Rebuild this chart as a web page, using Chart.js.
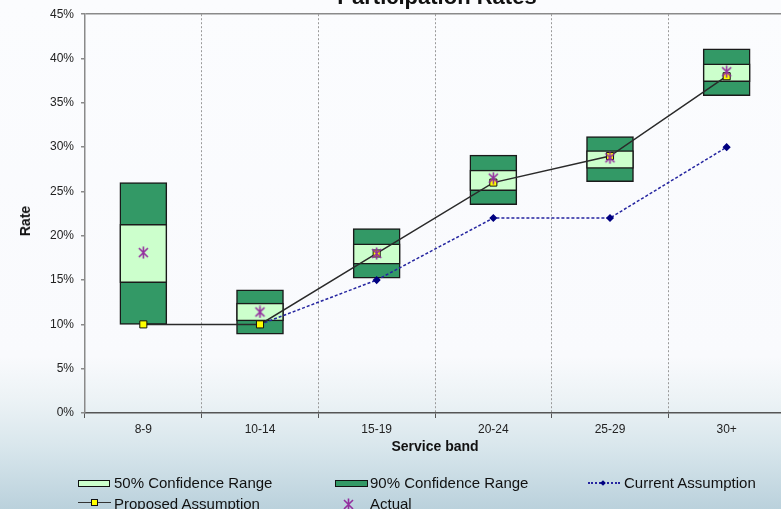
<!DOCTYPE html>
<html>
<head>
<meta charset="utf-8">
<script src="https://cdn.jsdelivr.net/npm/chart.js@4.4.1/dist/chart.umd.min.js"></script>
<style>
  body{margin:0;width:781px;height:509px;overflow:hidden;position:relative;
    background:linear-gradient(to bottom,#fbfcfe 0%,#f9fafd 70%,#edf3f6 78%,#d8e6ec 88%,#bad1dc 100%);
    font-family:"Liberation Sans",Arial,sans-serif;color:#111;}
  #caixa{position:absolute;left:0;top:0;width:800px;height:509px;}
  #titulo{position:absolute;left:37px;width:800px;top:-14px;text-align:center;font-weight:bold;font-size:22px;line-height:22px;}
  #rotulo_y{position:absolute;left:25px;top:221px;transform:translate(-50%,-50%) rotate(-90deg);font-weight:bold;font-size:14px;}
  .txt{position:absolute;font-size:15px;line-height:15px;white-space:nowrap;}
  .caixinha{position:absolute;box-sizing:border-box;border:1px solid #111;height:7px;}
  .linha{position:absolute;height:0;}
</style>
</head>
<body>
<div id="caixa"><canvas id="myChart"></canvas></div>
<div id="titulo">Participation Rates</div>
<div id="rotulo_y">Rate</div>

<!-- legenda -->
<div class="caixinha" style="left:78px;top:480px;width:32px;background:#ccffcc"></div>
<div class="txt" style="left:114px;top:475px">50% Confidence Range</div>
<div class="caixinha" style="left:335px;top:480px;width:33px;background:#339966"></div>
<div class="txt" style="left:370px;top:475px">90% Confidence Range</div>
<div class="linha" style="left:588px;top:482px;width:32px;border-top:2px dotted #2525a0"></div>
<div style="position:absolute;left:601px;top:481px;width:4px;height:4px;background:#000080;transform:rotate(45deg)"></div>
<div class="txt" style="left:624px;top:475px">Current Assumption</div>
<div class="linha" style="left:78px;top:502px;width:33px;border-top:1.5px solid #333"></div>
<div style="position:absolute;left:91px;top:499px;width:5px;height:5px;border:1px solid #111;background:#ffff00"></div>
<div class="txt" style="left:114px;top:496px">Proposed Assumption</div>
<div id="estrela_legenda" style="position:absolute;left:342px;top:497px"></div>
<div class="txt" style="left:370px;top:496px">Actual</div>

<script>
// Faixas de tempo de serviço
const faixas = ["8-9", "10-14", "15-19", "20-24", "25-29", "30+"];

// Intervalos de confiança (em %)
const faixa90_min = [10.0, 8.9, 15.2, 23.5, 26.1, 35.8];
const faixa90_max = [26.0, 13.9, 20.8, 29.1, 31.2, 41.1];
const faixa50_min = [14.7, 10.4, 16.8, 25.1, 27.6, 37.4];
const faixa50_max = [21.3, 12.4, 19.1, 27.4, 29.6, 39.4];

// Taxas observadas e premissas (em %)
const observado = [18.1, 11.4, 18.0, 26.5, 28.8, 38.5];
const premissa_proposta = [10, 10, 18, 26, 29, 38];
const premissa_atual = [null, 10, 15, 22, 22, 30];

// Eixo Y
const ticks_y = [0, 5, 10, 15, 20, 25, 30, 35, 40, 45];

const fonte = "'Liberation Sans', Arial, sans-serif";

// Marcador em forma de asterisco (X com traço vertical)
function desenhar_estrela(){
    const c = document.createElement("canvas");
    c.width = 13;
    c.height = 13;
    const g = c.getContext("2d");
    g.strokeStyle = "#932e9e";
    g.lineWidth = 1.6;
    g.beginPath();
    g.moveTo(2, 2); g.lineTo(11, 11);
    g.moveTo(11, 2); g.lineTo(2, 11);
    g.moveTo(6.5, 0.5); g.lineTo(6.5, 12.5);
    g.stroke();
    return c;
}

document.getElementById("estrela_legenda").appendChild(desenhar_estrela());

function juntar(minimos, maximos){
    return minimos.map((v, i) => [v, maximos[i]]);
}

var desenho = new Chart("myChart", {
    type: "bar",
    data: {
        labels: faixas,
        datasets: [{
            type: "line",
            label: "Actual",
            data: observado,
            showLine: false,
            pointStyle: desenhar_estrela(),
            pointRadius: 6,
            order: 0
        },
        {
            type: "line",
            label: "Proposed Assumption",
            data: premissa_proposta,
            borderColor: "#2a2a2a",
            borderWidth: 1.5,
            pointStyle: "rect",
            pointRadius: 5,
            pointBackgroundColor: "#ffff00",
            pointBorderColor: "#111111",
            pointBorderWidth: 1,
            order: 1
        },
        {
            type: "line",
            label: "Current Assumption",
            data: premissa_atual,
            borderColor: "#2525a0",
            borderWidth: 1.5,
            borderDash: [3, 2],
            pointStyle: "rectRot",
            pointRadius: 3,
            pointBackgroundColor: "#000080",
            pointBorderColor: "#000080",
            order: 2
        },
        {
            label: "50% Confidence Range",
            data: juntar(faixa50_min, faixa50_max),
            backgroundColor: "#ccffcc",
            borderColor: "#1a1a1a",
            borderWidth: 1.5,
            borderSkipped: false,
            grouped: false,
            barThickness: 47,
            order: 3
        },
        {
            label: "90% Confidence Range",
            data: juntar(faixa90_min, faixa90_max),
            backgroundColor: "#339966",
            borderColor: "#1a1a1a",
            borderWidth: 1.5,
            borderSkipped: false,
            grouped: false,
            barThickness: 47,
            order: 4
        }]
    },
    options: {
        responsive: true,
        maintainAspectRatio: false,
        animation: false,
        events: [],
        layout: { padding: { top: 12, right: 15, bottom: 51, left: 0 } },
        plugins: {
            legend: { display: false },
            tooltip: { enabled: false }
        },
        scales: {
            x: {
                offset: true,
                grid: {
                    offset: true,
                    color: (c) => c.index === 0 ? "transparent" : "#9a9a9a",
                    lineWidth: 1,
                    tickColor: "#555555",
                    tickLength: 5
                },
                border: { color: "#555555", width: 1.5, dash: [2, 2] },
                ticks: { color: "#222222", font: { family: fonte, size: 12 }, padding: 4 },
                title: {
                    display: true,
                    text: "Service band",
                    color: "#111111",
                    font: { family: fonte, size: 14, weight: "bold" },
                    padding: { top: 0, bottom: 2 }
                },
                afterFit: (escala) => { escala.height = 45; }
            },
            y: {
                min: 0,
                max: 45,
                afterBuildTicks: (escala) => { escala.ticks = ticks_y.map(v => ({ value: v })); },
                grid: {
                    color: (c) => c.tick && c.tick.value === 45 ? "#8a8a8a" : "transparent",
                    lineWidth: 1.5,
                    tickColor: "#8a8a8a",
                    tickLength: 4
                },
                border: { color: "#8a8a8a", width: 1.5 },
                ticks: {
                    color: "#222222",
                    font: { family: fonte, size: 12 },
                    padding: 7,
                    callback: (v) => v + "%"
                },
                afterFit: (escala) => { escala.width = 85; }
            }
        }
    }
});
</script>
</body>
</html>
